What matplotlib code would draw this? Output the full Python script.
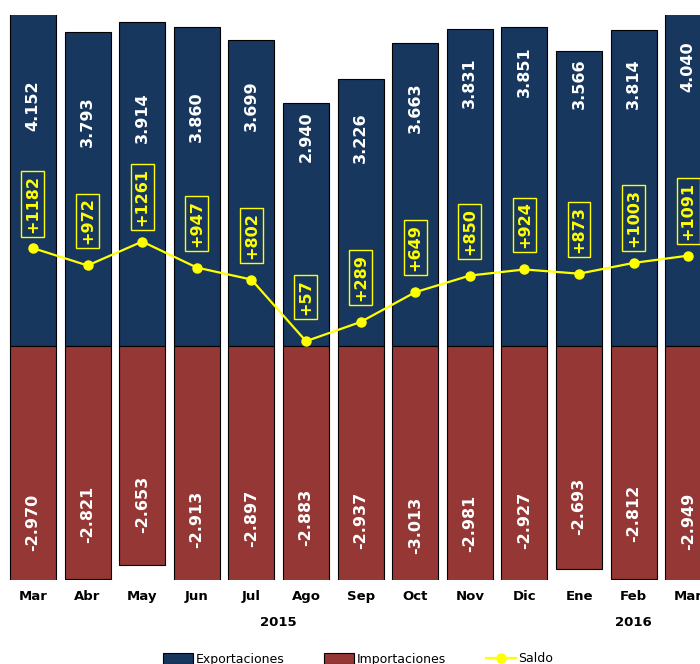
import numpy as np
import matplotlib
matplotlib.use("Agg")
import matplotlib.pyplot as plt

months = ["Mar", "Abr", "May", "Jun", "Jul", "Ago", "Sep", "Oct", "Nov", "Dic", "Ene", "Feb", "Mar"]
years = ["2015"] * 10 + ["2016"] * 3
exportaciones = [4152, 3793, 3914, 3860, 3699, 2940, 3226, 3663, 3831, 3851, 3566, 3814, 4040]
importaciones = [-2970, -2821, -2653, -2913, -2897, -2883, -2937, -3013, -2981, -2927, -2693, -2812, -2949]
saldo = [1182, 972, 1261, 947, 802, 57, 289, 649, 850, 924, 873, 1003, 1091]

# where the export value labels sit inside each bar (fraction of the bar)
exp_label_frac = [0.70, 0.714, 0.704, 0.717, 0.785, 0.86, 0.78, 0.786, 0.83, 0.86, 0.89, 0.83, 0.835]

navy = "#17375E"
red = "#953735"
yellow = "#FFFF00"

def fmt(v):
    return f"{v:,}".replace(",", ".")

fig = plt.figure(figsize=(7, 6.64), dpi=100)
ax = fig.add_axes([0, 1 - 580 / 664, 1, 565 / 664])

x = np.arange(len(months))
w = 0.842
b1 = ax.bar(x, exportaciones, w, color=navy, edgecolor="black", linewidth=0.8, label="Exportaciones", zorder=2)
b2 = ax.bar(x, importaciones, w, color=red, edgecolor="black", linewidth=0.8, label="Importaciones", zorder=2)
ln, = ax.plot(x, saldo, color=yellow, lw=1.6, marker="o", markersize=6.5, label="Saldo", zorder=3)

for i in range(len(months)):
    ax.text(x[i], exportaciones[i] * exp_label_frac[i], fmt(exportaciones[i]), rotation=90,
            ha="center", va="center", color="white", fontsize=11.5, fontweight="bold", zorder=4)
    ax.text(x[i], importaciones[i] * 0.72, fmt(importaciones[i]), rotation=90,
            ha="center", va="center", color="white", fontsize=11.5, fontweight="bold", zorder=4)
    ax.annotate(f"+{saldo[i]}", (x[i], saldo[i]), xytext=(0, 32), textcoords="offset points",
                rotation=90, ha="center", va="center", color=yellow, fontsize=11.5, fontweight="bold",
                bbox=dict(boxstyle="square,pad=0.25", fc=navy, ec=yellow, lw=1), zorder=5)

ax.set_xlim(-0.604, 12.216)
ax.set_ylim(-2830, 4000)
ax.set_xticks(x)
ax.set_xticklabels(months, fontsize=9.5, fontweight="bold")
ax.tick_params(axis="x", length=0, pad=7)
ax.set_yticks([])
for s in ax.spines.values():
    s.set_visible(False)

# year labels centred under their months
for yr in ["2015", "2016"]:
    idx = [i for i, y in enumerate(years) if y == yr]
    ax.annotate(yr, (np.mean(idx), -0.076), xycoords=("data", "axes fraction"),
                ha="center", va="center", fontsize=9.5, fontweight="bold")

fig.legend(handles=[b1, b2, ln], loc="center", bbox_to_anchor=(358 / 700, 1 - 659 / 664), ncol=3,
           frameon=False, fontsize=9, handlelength=2.4, handleheight=1.0, handletextpad=0.2,
           columnspacing=3.2)

fig.savefig("out.png", dpi=100)
